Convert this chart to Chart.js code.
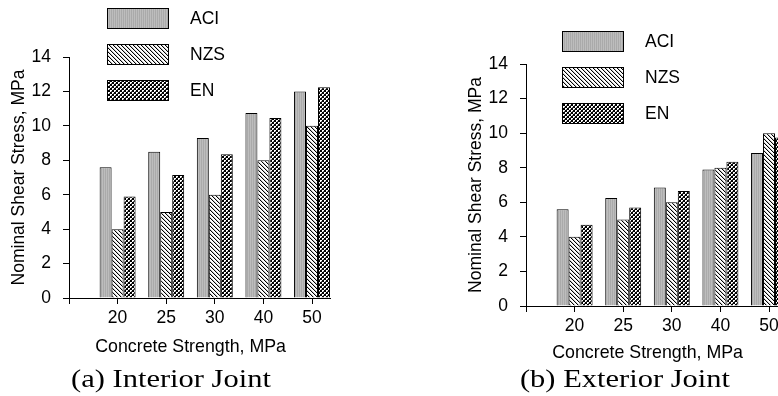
<!DOCTYPE html>
<html>
<head>
<meta charset="utf-8">
<script src="https://cdn.jsdelivr.net/npm/chart.js@4.4.1/dist/chart.umd.min.js"></script>
<style>
    html, body { margin: 0; padding: 0; background: #fff; }
    #wrap { position: relative; width: 778px; height: 396px; overflow: hidden; }
    canvas { position: absolute; top: 0; }
    #chartA { left: 0; }
    #chartB { left: 457px; }
    .caption {
        position: absolute; top: 366px; width: 260px; text-align: center;
        font-family: 'Liberation Serif', 'Times New Roman', serif; font-size: 25px;
        line-height: 25px; color: #000; transform: scaleX(1.22);
    }
</style>
</head>
<body>
<div id="wrap">
    <canvas id="chartA" width="390" height="396"></canvas>
    <canvas id="chartB" width="390" height="396"></canvas>
    <div class="caption" style="left:41px">(a) Interior Joint</div>
    <div class="caption" style="left:495px">(b) Exterior Joint</div>
</div>
<script>
// ---- data ----
const strengths = ['20', '25', '30', '40', '50'];
const codes = ['ACI', 'NZS', 'EN'];

const interiorACI = [7.6, 8.5, 9.3, 10.75, 12.0];
const interiorNZS = [4, 5, 6, 8, 10];
const interiorEN = [5.9, 7.15, 8.35, 10.45, 12.25];

const exteriorACI = [5.6, 6.25, 6.85, 7.9, 8.85];
const exteriorNZS = [4, 5, 6, 8, 10];
const exteriorEN = [4.7, 5.7, 6.65, 8.35, 9.75];

const yTickValues = [0, 2, 4, 6, 8, 10, 12, 14];

// ---- fill patterns ----
function makePattern(size, painter) {
    const c = document.createElement('canvas');
    c.width = size; c.height = size;
    const g = c.getContext('2d');
    painter(g, size);
    return g.createPattern(c, 'repeat');
}

// fine vertical grey stripes
const grayPattern = makePattern(2, (g) => {
    g.fillStyle = '#bdbdbd'; g.fillRect(0, 0, 1, 2);
    g.fillStyle = '#aaaaaa'; g.fillRect(1, 0, 1, 2);
});

// "\" diagonal hatch
const hatchPattern = makePattern(4, (g, s) => {
    g.fillStyle = '#fff'; g.fillRect(0, 0, s, s);
    g.fillStyle = '#000';
    for (let i = 0; i < s; i++) g.fillRect(i, i, 1, 1);
    g.fillStyle = '#c8c8c8';
    for (let i = 0; i < s; i++) g.fillRect((i + 1) % s, i, 1, 1);
});

// small checkerboard
const crossPattern = makePattern(4, (g, s) => {
    g.fillStyle = '#000'; g.fillRect(0, 0, s, s);
    g.fillStyle = '#fff';
    g.fillRect(0, 0, 2, 2);
    g.fillRect(2, 2, 2, 2);
    g.fillStyle = '#666';
    g.fillRect(1, 1, 1, 1);
    g.fillRect(3, 3, 1, 1);
});

const fills = [grayPattern, hatchPattern, crossPattern];

//============================
//  legend drawn as boxes + labels
//============================
const boxLegend = {
    id: 'boxLegend',
    afterDraw(chart, args, opts) {
        const ctx = chart.ctx;
        ctx.save();
        chart.data.datasets.forEach((ds, i) => {
            const y = opts.top + i * opts.gap;
            ctx.fillStyle = ds.backgroundColor;
            ctx.fillRect(opts.left, y, 62, 21);
            ctx.lineWidth = 1;
            ctx.strokeStyle = '#000';
            ctx.strokeRect(opts.left + 0.5, y + 0.5, 61, 20);
            ctx.fillStyle = '#000';
            ctx.font = '17.5px "Liberation Sans", Arial, sans-serif';
            ctx.textBaseline = 'middle';
            ctx.fillText(ds.label, opts.left + 83, y + 11);
        });
        ctx.restore();
    }
};

function makeChart(id, values, geo) {
    const H = 396, W = 390;
    const font = { family: '"Liberation Sans", Arial, sans-serif', size: 17.5 };
    return new Chart(document.getElementById(id), {
        type: 'bar',
        data: {
            datasets: values.map((arr, i) => ({
                label: codes[i],
                data: arr.map((v, k) => ({ x: k + 1, y: v })),
                backgroundColor: fills[i],
                borderColor: '#000',
                borderWidth: 1,
                categoryPercentage: 0.74,
                barPercentage: 1
            }))
        },
        options: {
            responsive: false,
            animation: false,
            layout: { padding: { top: geo.top, right: W - 69 - 261, left: 0, bottom: 0 } },
            plugins: {
                legend: { display: false },
                tooltip: { enabled: false },
                boxLegend: { left: geo.legendLeft, top: geo.legendTop, gap: 36 }
            },
            scales: {
                x: {
                    type: 'linear',
                    min: 0,
                    max: 5.37,
                    offset: false,
                    afterBuildTicks: (s) => { s.ticks = [0, 1, 2, 3, 4, 5].map(v => ({ value: v })); },
                    afterFit: (s) => { s.height = H - geo.bottom; },
                    grid: { offset: false, drawOnChartArea: false, tickLength: 6, color: '#000' },
                    border: { color: '#000', width: 1 },
                    ticks: {
                        color: '#000', font: font, padding: 4, maxRotation: 0,
                        callback: (v) => strengths[v - 1] || ''
                    },
                    title: {
                        display: true, text: 'Concrete Strength, MPa\u2003', color: '#000',
                        font: { family: font.family, size: 17.8 },
                        padding: { top: 0, bottom: geo.xTitlePad }
                    }
                },
                y: {
                    min: 0,
                    max: 14,
                    afterBuildTicks: (s) => { s.ticks = yTickValues.map(v => ({ value: v })); },
                    afterFit: (s) => { s.width = 69; },
                    grid: { drawOnChartArea: false, tickLength: 6, color: '#000' },
                    border: { color: '#000', width: 1 },
                    ticks: { color: '#000', font: font, padding: 12 },
                    title: {
                        display: true, text: 'Nominal Shear Stress, MPa', color: '#000',
                        font: { family: font.family, size: 17.5 },
                        padding: { top: 9, bottom: 0 }
                    }
                }
            }
        },
        plugins: [boxLegend]
    });
}

makeChart('chartA', [interiorACI, interiorNZS, interiorEN],
    { top: 57, bottom: 298, legendLeft: 107, legendTop: 8, xTitlePad: 38 });
makeChart('chartB', [exteriorACI, exteriorNZS, exteriorEN],
    { top: 64, bottom: 306, legendLeft: 105, legendTop: 31, xTitlePad: 32 });
</script>
</body>
</html>
